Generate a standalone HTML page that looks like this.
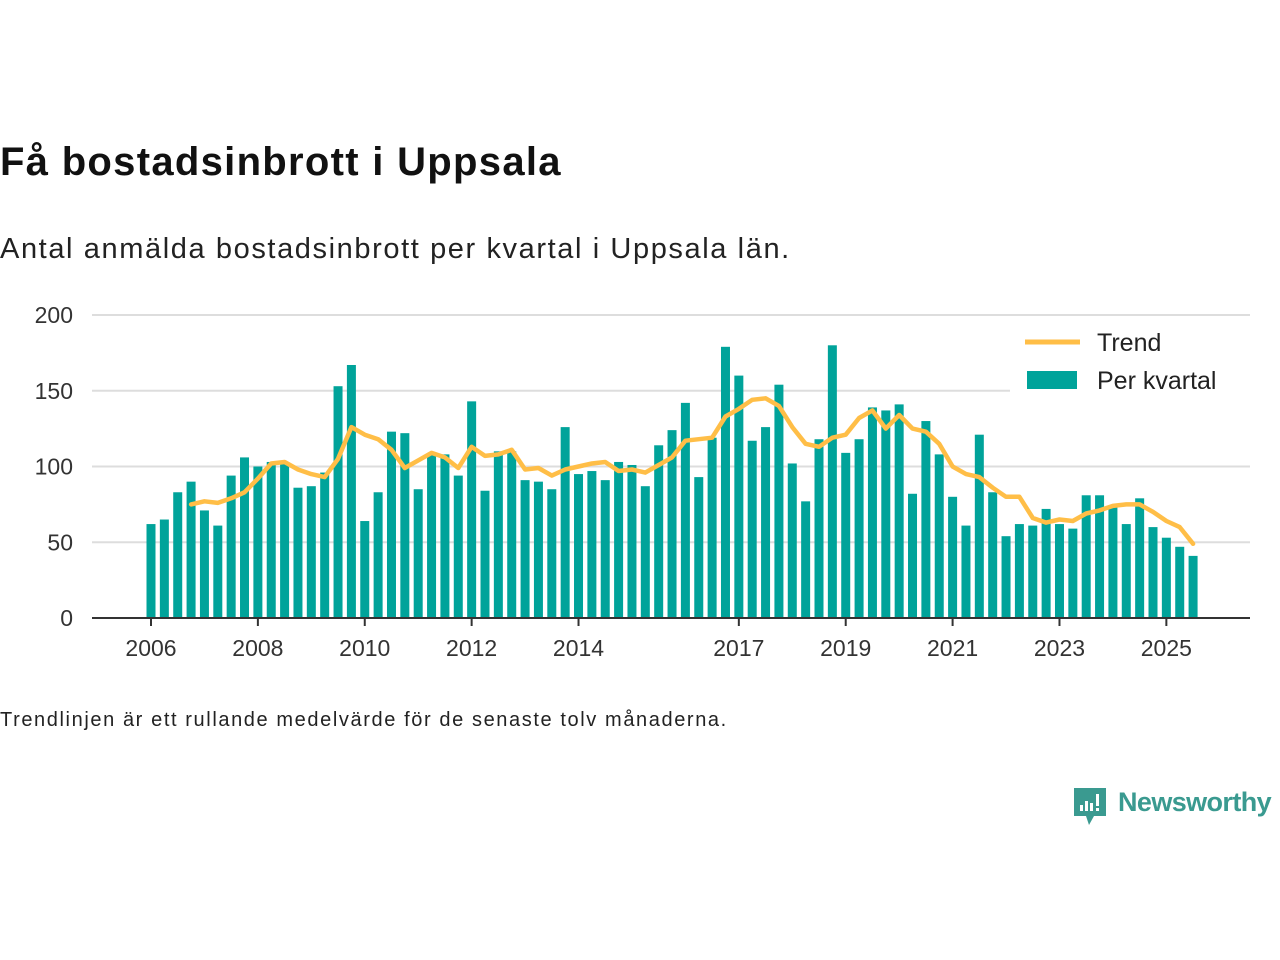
<!DOCTYPE html>
<html><head><meta charset="utf-8">
<style>
body{margin:0;width:1280px;height:960px;background:#fff;font-family:"Liberation Sans","DejaVu Sans",sans-serif;overflow:hidden;position:relative;color:#111}
.t{position:absolute;left:0;white-space:nowrap}
</style></head><body>
<div class="t" style="top:140px;font-size:40px;font-weight:bold;letter-spacing:1.3px;color:#111">Få bostadsinbrott i Uppsala</div>
<div class="t" style="top:233px;font-size:29px;letter-spacing:1.6px;color:#222">Antal anmälda bostadsinbrott per kvartal i Uppsala län.</div>
<svg id="chart" width="1280" height="700" style="position:absolute;left:0;top:0" xmlns="http://www.w3.org/2000/svg"></svg>
<div class="t" style="top:709px;font-size:20px;letter-spacing:1.6px;color:#222">Trendlinjen är ett rullande medelvärde för de senaste tolv månaderna.</div>
<div style="position:absolute;left:1071px;top:786px;">
<svg width="38" height="42" viewBox="0 0 36 42"><path d="M2 2h32v28H22l-5 9-3-9H2z" fill="#3a9a90"/><rect x="8" y="19" width="3" height="6" fill="#fff"/><rect x="13" y="15" width="3" height="10" fill="#fff"/><rect x="18" y="17" width="3" height="8" fill="#fff"/><rect x="24" y="8" width="3" height="12" fill="#fff"/><rect x="24" y="22" width="3" height="3" fill="#fff"/></svg>
<span style="position:absolute;left:47px;top:1px;font-size:27px;font-weight:bold;letter-spacing:-0.6px;color:#3a9a90;white-space:nowrap">Newsworthy</span>
</div>
<script>
const bars=[62,65,83,90,71,61,94,106,100,103,102,86,87,96,153,167,64,83,123,122,85,108,108,94,143,84,110,110,91,90,85,126,95,97,91,103,101,87,114,124,142,93,119,179,160,117,126,154,102,77,118,180,109,118,139,137,141,82,130,108,80,61,121,83,54,62,61,72,62,59,81,81,74,62,79,60,53,47,41];
const trend=[75,77,76,79,83,92,102,103,98,95,93,105,126,121,118,111,99,104,109,106,99,113,107,108,111,98,99,94,98,100,102,103,97,98,96,101,106,117,118,119,133,138,144,145,140,126,115,113,119,121,132,137,125,134,125,123,115,100,95,93,86,80,80,66,63,65,64,69,71,74,75,75,70,64,60,49];
const trendStart=3;
const yTicks=[0,50,100,150,200];
const xYears=[2006,2008,2010,2012,2014,2017,2019,2021,2023,2025];
const NS="http://www.w3.org/2000/svg";
const svg=document.getElementById('chart');
const x0=151,qw=13.36,y0=618,ys=303/200;
const X=i=>x0+i*qw, Y=v=>y0-v*ys;
function el(t,a){const e=document.createElementNS(NS,t);for(const k in a)e.setAttribute(k,a[k]);svg.appendChild(e);return e;}
yTicks.forEach(v=>{
 if(v>0){const g=el('line',{x1:92,x2:1250,y1:Y(v),y2:Y(v),stroke:'#ddd','stroke-width':2});
 
 }
 const t=el('text',{x:73,y:Y(v)+8,'text-anchor':'end','font-size':23,fill:'#333','font-family':'Liberation Sans, sans-serif'});
 t.textContent=v;
 
 
});
bars.forEach((v,i)=>{
 const r=el('rect',{x:X(i)-4.5,y:Y(v),width:9,height:v*ys,fill:'#00a39a'});
 
 
});
const pts=trend.map((v,i)=>X(i+trendStart).toFixed(1)+','+Y(v).toFixed(1)).join(' ');
const pl=el('polyline',{points:pts,fill:'none',stroke:'#ffbe47','stroke-width':4.5,'stroke-linejoin':'round','stroke-linecap':'round'});


const ax=el('line',{x1:92,x2:1250,y1:y0,y2:y0,stroke:'#333','stroke-width':2});


xYears.forEach(yr=>{
 const xx=X((yr-2006)*4);
 const tk=el('line',{x1:xx,x2:xx,y1:y0,y2:y0+8,stroke:'#333','stroke-width':2});
 
 
 const t=el('text',{x:xx,y:656,'text-anchor':'middle','font-size':23,fill:'#333','font-family':'Liberation Sans, sans-serif'});
 t.textContent=yr;
 
 
});
const lb=el('rect',{x:1010,y:322,width:240,height:80,fill:'#fff'});


const l1=el('line',{x1:1025,x2:1080,y1:342,y2:342,stroke:'#ffbe47','stroke-width':5});


const t1=el('text',{x:1097,y:351,'font-size':25,fill:'#222','font-family':'Liberation Sans, sans-serif'});
t1.textContent='Trend';


const l2=el('rect',{x:1027,y:371,width:50,height:18,fill:'#00a39a'});


const t2=el('text',{x:1097,y:389,'font-size':25,fill:'#222','font-family':'Liberation Sans, sans-serif'});
t2.textContent='Per kvartal';


</script>
</body></html>
